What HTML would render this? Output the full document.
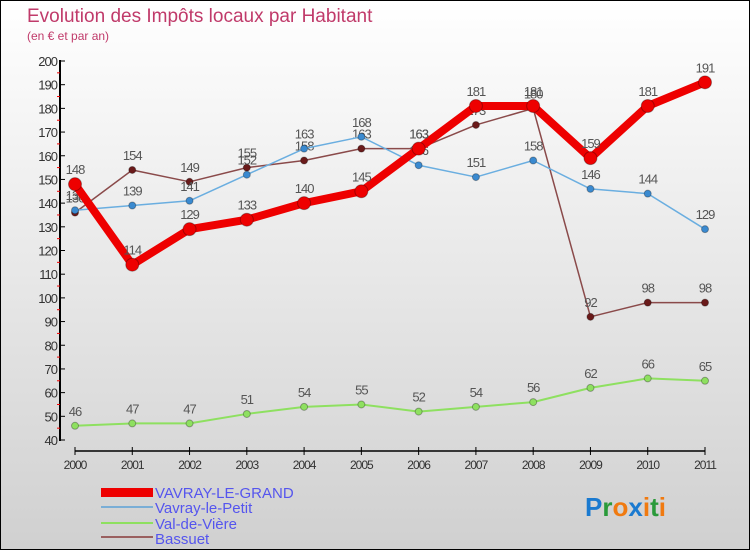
<!DOCTYPE html>
<html><head><meta charset="utf-8"><style>
body{margin:0;width:750px;height:550px;overflow:hidden;font-family:"Liberation Sans",sans-serif}
#c{position:absolute;left:0;top:0;width:748px;height:548px;border:1px solid #000;background:linear-gradient(#fff,#d0d0d0)}
</style></head><body>
<div id="c">
<svg id="s" width="748" height="548" xmlns="http://www.w3.org/2000/svg">
<text x="26" y="21" font-size="19" fill="#c03a6a">Evolution des Impôts locaux par Habitant</text>
<text x="26" y="39" font-size="12" fill="#c03a6a">(en € et par an)</text>
<g id="ax"></g><g id="ser"></g>
<g font-size="15" fill="#5555ee">
<rect x="100" y="487" width="52" height="9" fill="#e00"/>
<text x="154" y="497">VAVRAY-LE-GRAND</text>
<rect x="100" y="505" width="52" height="2" fill="#7aaed6"/>
<text x="154" y="512">Vavray-le-Petit</text>
<rect x="100" y="521" width="52" height="2" fill="#8ee060"/>
<text x="154" y="528">Val-de-Vière</text>
<rect x="100" y="535" width="52" height="2" fill="#9a6060"/>
<text x="154" y="543">Bassuet</text>
</g>
<g font-size="26" font-weight="bold">
<text x="584" y="515"><tspan fill="#1a7ad0">P</tspan><tspan fill="#2a9a3a">r</tspan><tspan fill="#f07a10">o</tspan><tspan fill="#1a7ad0">x</tspan><tspan fill="#f07a10">i</tspan><tspan fill="#2a9a3a">t</tspan><tspan fill="#f07a10">i</tspan></text>
</g>
</svg></div>
<script>
const years=["2000","2001","2002","2003","2004","2005","2006","2007","2008","2009","2010","2011"];
const yTicks=[40,50,60,70,80,90,100,110,120,130,140,150,160,170,180,190,200];
const grand=[148,114,129,133,140,145,163,181,181,159,181,191];
const petit=[137,139,141,152,163,168,156,151,158,146,144,129];
const viere=[46,47,47,51,54,55,52,54,56,62,66,65];
const bassuet=[136,154,149,155,158,163,163,173,180,92,98,98];
const NS="http://www.w3.org/2000/svg";
const X=i=>74+i*(630/11), Y=v=>439-(v-40)*(379/160);
function mk(t,a,p){const e=document.createElementNS(NS,t);for(const k in a)e.setAttribute(k,a[k]);p.appendChild(e);return e;}
const ax=document.getElementById('ax');
const yl=mk('line',{x1:59,y1:59,x2:59,y2:440,stroke:'#000','stroke-width':2},ax);


const xl=mk('line',{x1:74,y1:450,x2:704,y2:450,stroke:'#000','stroke-width':1.5},ax);


yTicks.forEach((v,i)=>{
 mk('line',{x1:59,x2:64,y1:Y(v),y2:Y(v),stroke:'#000'},ax);
 if(i<yTicks.length-1)mk('line',{x1:56,x2:59,y1:Y(v+5),y2:Y(v+5),stroke:'#e00'},ax);
 const t=mk('text',{x:56,y:Y(v)+5,'text-anchor':'end','font-size':13,fill:'#333','letter-spacing':'-1'},ax);
 t.textContent=v;
 
 
});
years.forEach((y,i)=>{
 mk('line',{x1:X(i),x2:X(i),y1:446,y2:454,stroke:'#000'},ax);
 const t=mk('text',{x:X(i),y:468,'text-anchor':'middle','font-size':12,fill:'#333','letter-spacing':'-1'},ax);
 t.textContent=y;
 
 
});
const ser=document.getElementById('ser');
function draw(d,col,w,r,name,dot){
 const g=mk('g',{},ser);
 
 
 const pl=mk('polyline',{points:d.map((v,i)=>X(i)+','+Y(v)).join(' '),fill:'none',stroke:col,'stroke-width':w,'stroke-linejoin':'round'},g);
 
 
 d.forEach((v,i)=>{
  const c=mk('circle',{cx:X(i),cy:Y(v),r:r,fill:dot,stroke:'rgba(0,0,0,0.3)'},g);
  
  
  const t=mk('text',{x:X(i),y:Y(v)-10,'text-anchor':'middle','font-size':13,fill:'#555','letter-spacing':'-1'},g);
  t.textContent=v;
  
  
 });
}
draw(viere,'#8ee060',2,3.5,'series-val-de-viere','#8ee060');
draw(bassuet,'#8a4a4a',1.5,3.5,'series-bassuet','#6a1a1a');
draw(petit,'#6aaee0',1.5,3.5,'series-vavray-le-petit','#3a8ad0');
draw(grand,'#ee0000',8,6.5,'series-vavray-le-grand','#ee0000');
</script>
</body></html>
